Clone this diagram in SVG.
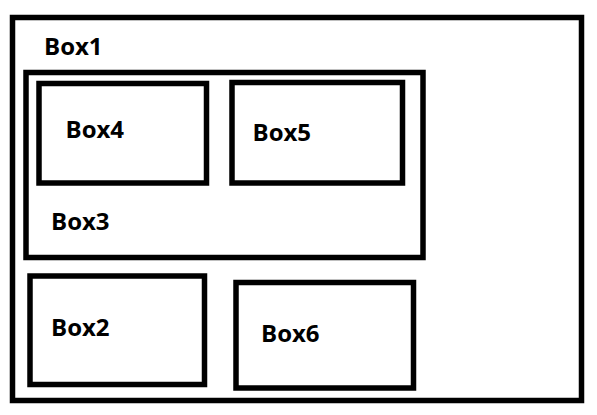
<svg xmlns="http://www.w3.org/2000/svg" width="597" height="415" viewBox="0 0 597 415">
<style>
.box{fill:none;stroke:#000;stroke-width:5.5}
.lbl{font-family:"Open Sans","Liberation Sans",sans-serif;font-weight:700;font-size:24px;fill:#000}
</style>
<rect width="597" height="415" fill="#fff"/>
<g id="box1">
<rect class="box" x="12.5" y="17.5" width="569" height="383"/>
<text class="lbl" x="44" y="54.5">Box1</text>
</g>
<g id="box3">
<rect class="box" x="26" y="72.5" width="397" height="185"/>
<text class="lbl" x="51" y="230">Box3</text>
</g>
<g id="box4">
<rect class="box" x="39" y="83.5" width="167.5" height="99.5"/>
<text class="lbl" x="65.5" y="137.5">Box4</text>
</g>
<g id="box5">
<rect class="box" x="232" y="82.5" width="170.5" height="100.5"/>
<text class="lbl" x="252.5" y="141">Box5</text>
</g>
<g id="box2">
<rect class="box" x="30" y="276" width="174.5" height="108.5"/>
<text class="lbl" x="51" y="336">Box2</text>
</g>
<g id="box6">
<rect class="box" x="236" y="282.5" width="177.5" height="105.5"/>
<text class="lbl" x="261" y="341.5">Box6</text>
</g>
<g id="connectors"></g>
</svg>
